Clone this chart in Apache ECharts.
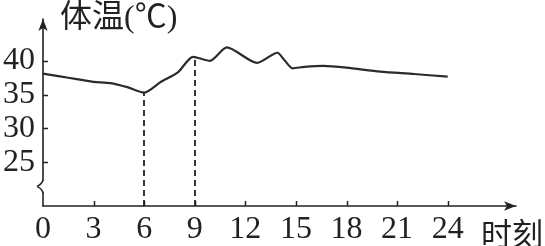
<!DOCTYPE html>
<html>
<head>
<meta charset="utf-8">
<script src="https://cdn.jsdelivr.net/npm/echarts@6/dist/echarts.min.js"></script>
<style>
html,body{margin:0;padding:0;background:#fff;}
#main{width:545px;height:246px;}
</style>
</head>
<body>
<div id="main"></div>
<script>
// Data
var hours = [0, 1, 2, 3, 4, 5, 6, 7, 8, 8.9, 9.9, 10.9, 12.7, 13.9, 14.35, 14.8, 15.5, 16.6, 18, 20, 22, 24];
var temps = [38.1, 37.7, 37.3, 36.9, 36.7, 36.1, 35.3, 36.9, 38.3, 40.6, 40.0, 42.0, 39.7, 41.2, 40.0, 38.9, 39.1, 39.25, 39.0, 38.4, 38.05, 37.65];
var xTicks = [0, 3, 6, 9, 12, 15, 18, 21, 24];
var yTicks = [25, 30, 35, 40];
var dashHours = [6, 9];
var dashTemps = [35.3, 40.6];
var yTitle = '体温(℃)';
var xTitle = '时刻';

var FONT = "'Liberation Serif', 'Noto Sans CJK SC', serif";
var INK = '#222';
var Y_MIN = 18.5, Y_MAX = 46.2, X_MAX = 28.05;

var chart = echarts.init(document.getElementById('main'), null, {renderer: 'canvas'});

var lineData = hours.map(function (h, i) { return [h, temps[i]]; });
var dashData = dashHours.map(function (h, i) {
  return [{coord: [h, Y_MIN]}, {coord: [h, dashTemps[i]]}];
});

chart.setOption({
  backgroundColor: '#fff',
  animation: false,
  title: [
    {text: yTitle, left: 55, top: -2, textStyle: {fontFamily: FONT, fontSize: 32, fontWeight: 'normal', color: INK}},
    {text: xTitle, left: 476, top: 216, textStyle: {fontFamily: FONT, fontSize: 31, fontWeight: 'normal', color: INK}}
  ],
  grid: {left: 43, right: 29, top: 19, bottom: 39},
  xAxis: {
    type: 'value', min: 0, max: X_MAX,
    axisLine: {show: true, symbol: ['none', 'arrow'], symbolSize: [7, 12], lineStyle: {color: INK, width: 1.6}},
    axisTick: {show: false},
    axisLabel: {customValues: xTicks, margin: 8, fontFamily: FONT, fontSize: 32, color: INK, showMinLabel: true, showMaxLabel: true},
    splitLine: {show: false}
  },
  yAxis: {
    type: 'value', min: Y_MIN, max: Y_MAX,
    axisLine: {show: true, symbol: ['none', 'arrow'], symbolSize: [7, 12], lineStyle: {color: INK, width: 1.6}},
    axisTick: {show: false},
    axisLabel: {customValues: yTicks, margin: 8, fontFamily: FONT, fontSize: 32, color: INK},
    splitLine: {show: false}
  },
  series: [{
    type: 'line',
    data: lineData,
    smooth: 0.25,
    symbol: 'none',
    lineStyle: {color: '#2b2b2b', width: 2.2},
    markLine: {
      silent: true,
      symbol: ['none', 'none'],
      label: {show: false},
      lineStyle: {type: [6, 4], color: INK, width: 1.8},
      data: dashData
    }
  }]
});

// tick marks and axis-break zigzag, placed via the axis scales
var x0 = chart.convertToPixel({xAxisIndex: 0}, 0);
var yBase = chart.convertToPixel({yAxisIndex: 0}, Y_MIN);
var g = [];
xTicks.slice(1).forEach(function (v) {
  var px = Math.round(chart.convertToPixel({xAxisIndex: 0}, v)) + 0.5;
  g.push({type: 'line', shape: {x1: px, y1: yBase, x2: px, y2: yBase - 5}, style: {stroke: INK, lineWidth: 1.5}, z: 50});
});
yTicks.forEach(function (v) {
  var py = Math.round(chart.convertToPixel({yAxisIndex: 0}, v)) + 0.5;
  g.push({type: 'line', shape: {x1: x0, y1: py, x2: x0 + 5, y2: py}, style: {stroke: INK, lineWidth: 1.5}, z: 50});
});
var yA = chart.convertToPixel({yAxisIndex: 0}, 22.2);
var yB = chart.convertToPixel({yAxisIndex: 0}, 20.6);
var yM = (yA + yB) / 2;
g.push({type: 'rect', shape: {x: x0 - 2, y: yA, width: 4, height: yB - yA}, style: {fill: '#fff'}, z: 100});
g.push({type: 'bezierCurve', shape: {x1: x0, y1: yA - 1, x2: x0 - 6, y2: yM, cpx1: x0 - 1, cpy1: yA + 3}, style: {stroke: INK, lineWidth: 1.5, fill: null}, z: 101});
g.push({type: 'bezierCurve', shape: {x1: x0 - 6, y1: yM, x2: x0, y2: yB + 1, cpx1: x0 - 1, cpy1: yB - 3}, style: {stroke: INK, lineWidth: 1.5, fill: null}, z: 101});
chart.setOption({graphic: g});
</script>
</body>
</html>
